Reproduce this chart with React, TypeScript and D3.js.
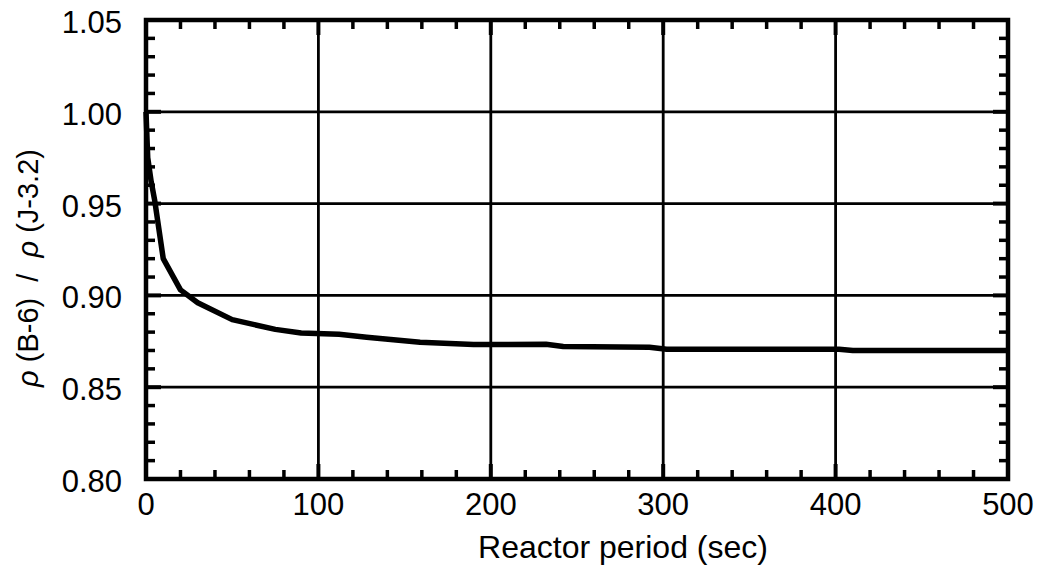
import * as d3 from 'd3'

// reactor period (sec) vs reactivity ratio B-6 / J-3.2
const periods = [0, 1, 3, 5, 10, 20, 30, 50, 75, 90, 112, 128, 159, 190, 232, 242, 292, 302, 402, 410, 500]
const ratios = [1.0, 0.975, 0.962, 0.952, 0.92, 0.903, 0.896, 0.8868, 0.8815, 0.8795, 0.8788, 0.8772, 0.8745, 0.8732, 0.8734, 0.8722, 0.8718, 0.8707, 0.8707, 0.8700, 0.8700]

const xTicks = [0, 100, 200, 300, 400, 500]
const yTicks = [0.8, 0.85, 0.9, 0.95, 1.0, 1.05]

const W = 1045
const H = 572
const left = 146
const right = 1008
const top = 20
const bottom = 479

const font = '"Liberation Sans", Arial, Helvetica, sans-serif'

export default function App() {
  const x = d3.scaleLinear().domain([0, 500]).range([left, right])
  const y = d3.scaleLinear().domain([0.8, 1.05]).range([bottom, top])

  const line = d3.line<number>()
    .x((_, i) => x(periods[i]))
    .y(d => y(d))

  const xMinor = d3.range(0, 501, 20).filter(v => v % 100 !== 0)
  const yMinor = d3.range(80, 106, 1).map(v => v / 100).filter(v => Math.round(v * 100) % 5 !== 0)

  return (
    <svg width={W} height={H} style={{ position: 'absolute', left: 0, top: 0, background: '#fff' }}>
      {/* grid */}
      {xTicks.slice(1, -1).map(t => (
        <line key={'gx' + t} x1={x(t)} x2={x(t)} y1={top} y2={bottom} stroke="#000" strokeWidth={2.8} />
      ))}
      {yTicks.slice(1, -1).map(t => (
        <line key={'gy' + t} x1={left} x2={right} y1={y(t)} y2={y(t)} stroke="#000" strokeWidth={2.8} />
      ))}

      {/* minor ticks, inward on all four sides */}
      {xMinor.map(t => (
        <g key={'mx' + t}>
          <line x1={x(t)} x2={x(t)} y1={bottom} y2={bottom - 9} stroke="#000" strokeWidth={3.5} />
          <line x1={x(t)} x2={x(t)} y1={top} y2={top + 9} stroke="#000" strokeWidth={3.5} />
        </g>
      ))}
      {yMinor.map(t => (
        <g key={'my' + t}>
          <line x1={left} x2={left + 9} y1={y(t)} y2={y(t)} stroke="#000" strokeWidth={3.5} />
          <line x1={right} x2={right - 9} y1={y(t)} y2={y(t)} stroke="#000" strokeWidth={3.5} />
        </g>
      ))}
      {xTicks.slice(1, -1).map(t => (
        <g key={'Mx' + t}>
          <line x1={x(t)} x2={x(t)} y1={bottom} y2={bottom - 15} stroke="#000" strokeWidth={4} />
          <line x1={x(t)} x2={x(t)} y1={top} y2={top + 15} stroke="#000" strokeWidth={4} />
        </g>
      ))}
      {yTicks.slice(1, -1).map(t => (
        <g key={'My' + t}>
          <line x1={left} x2={left + 15} y1={y(t)} y2={y(t)} stroke="#000" strokeWidth={4} />
          <line x1={right} x2={right - 15} y1={y(t)} y2={y(t)} stroke="#000" strokeWidth={4} />
        </g>
      ))}

      {/* curve */}
      <path d={line(ratios) ?? ''} fill="none" stroke="#000" strokeWidth={5.5} strokeLinejoin="round" />

      {/* frame */}
      <rect x={left} y={top} width={right - left} height={bottom - top} fill="none" stroke="#000" strokeWidth={4.5} />

      {/* tick labels */}
      {xTicks.map(t => (
        <text key={'lx' + t} x={x(t)} y={515} textAnchor="middle" fontFamily={font} fontSize={31} fill="#000">
          {t}
        </text>
      ))}
      {yTicks.map(t => (
        <text key={'ly' + t} x={122} y={y(t) + 13} textAnchor="end" fontFamily={font} fontSize={31} fill="#000">
          {t.toFixed(2)}
        </text>
      ))}

      {/* axis titles */}
      <text x={(left + right) / 2 + 46} y={558} textAnchor="middle" fontFamily={font} fontSize={32} fill="#000">
        Reactor period (sec)
      </text>
      <text
        transform="translate(38,268) rotate(-90)"
        textAnchor="middle"
        fontFamily={font}
        fontSize={29}
        fill="#000"
        style={{ whiteSpace: 'pre' }}
      >
        <tspan fontStyle="italic">ρ</tspan>
        <tspan>{' (B-6)  /  '}</tspan>
        <tspan fontStyle="italic">ρ</tspan>
        <tspan>{' (J-3.2)'}</tspan>
      </text>
    </svg>
  )
}
